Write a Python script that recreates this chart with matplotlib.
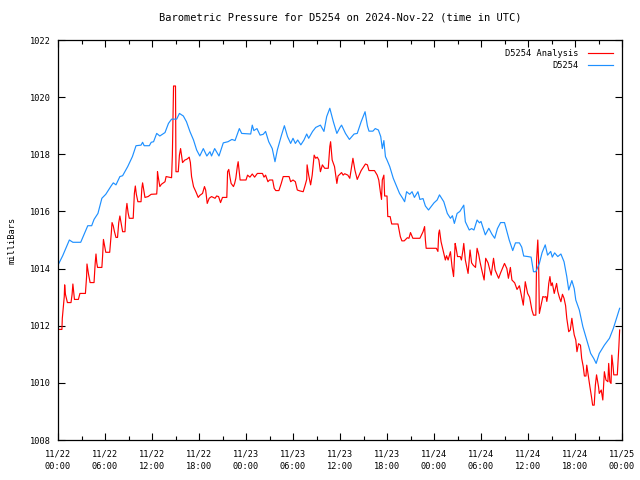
import matplotlib
matplotlib.use("Agg")
import matplotlib.pyplot as plt
from matplotlib.ticker import MultipleLocator

# hours since 2024-11-22 00:00 UTC, pressure in mb
station_hours = [
    0, 0.6, 1.45, 1.9, 2.9, 3.8, 4.3, 4.6, 5.1, 5.6, 6.1, 6.8, 7.06, 7.4, 7.9, 8.25,
    8.9, 9.5, 9.96, 10.6, 10.8, 11.0, 11.66, 11.9, 12.2, 12.6, 13.0, 13.66, 14.1,
    14.5, 15.15, 15.5, 16.0, 16.4, 16.85, 17.3, 17.7, 18.1, 18.55, 19.0, 19.4, 19.6,
    20.0, 20.55, 21.1, 21.7, 22.2, 22.6, 23.15, 23.45, 24.6, 24.8, 25.0, 25.4, 25.8,
    26.2, 26.5, 26.9, 27.35, 27.7, 28.0, 28.5, 28.9, 29.3, 29.7, 30.0, 30.3, 30.6,
    31.0, 31.4, 31.75, 32.0, 32.5, 32.9, 33.5, 33.95, 34.3, 34.7, 35.15, 35.6, 36.0,
    36.2, 36.7, 37.2, 37.8, 38.2, 38.7, 39.2, 39.5, 39.7, 40.2, 40.5, 40.9, 41.2,
    41.4, 41.6, 41.8, 42.0, 42.35, 42.8, 43.2, 43.6, 44.0, 44.25, 44.5, 44.9, 45.2,
    45.5, 45.95, 46.2, 46.6, 46.9, 47.3, 48.0, 48.4, 48.7, 49.25, 49.7, 50.1, 50.35,
    50.6, 50.95, 51.3, 51.8, 52.0, 52.5, 52.8, 53.1, 53.5, 53.8, 54.0, 54.55, 55.0,
    55.4, 55.75, 56.1, 56.5, 57.0, 57.3, 57.6, 58.05, 58.4, 58.9, 59.2, 59.45, 60.0,
    60.4, 60.7, 61.0, 61.45, 61.8, 62.2, 62.5, 62.9, 63.1, 63.4, 63.8, 64.2, 64.6,
    64.95, 65.2, 65.6, 65.9, 66.1, 66.55, 67.0, 67.5, 68.0, 68.4, 68.7, 69.1, 69.75,
    70.4, 70.9, 71.3, 71.7,
]
station_mb = [
    1014.12, 1014.45, 1015.0, 1014.92, 1014.92, 1015.5, 1015.5, 1015.72, 1015.93,
    1016.46, 1016.6, 1016.9, 1017.0, 1016.93, 1017.22, 1017.25, 1017.57, 1017.92,
    1018.3, 1018.32, 1018.42, 1018.3, 1018.3, 1018.42, 1018.44, 1018.73, 1018.64,
    1018.76, 1019.08, 1019.23, 1019.23, 1019.43, 1019.34, 1019.14, 1018.79, 1018.5,
    1018.15, 1017.94, 1018.2, 1017.94, 1018.09, 1017.94, 1018.2, 1017.94, 1018.4,
    1018.44, 1018.52, 1018.48, 1018.9, 1018.73, 1018.71, 1019.02, 1018.83, 1018.9,
    1018.67, 1018.7, 1018.8, 1018.44, 1018.2, 1017.74, 1018.15, 1018.64, 1019.0,
    1018.62, 1018.38, 1018.56, 1018.38, 1018.5, 1018.33, 1018.5, 1018.71, 1018.56,
    1018.8, 1018.94, 1019.02, 1018.8, 1019.32, 1019.61, 1019.14, 1018.73, 1018.94,
    1019.02, 1018.73, 1018.52, 1018.71, 1018.73, 1019.14, 1019.49, 1018.99, 1018.81,
    1018.81, 1018.9, 1018.85, 1018.62, 1018.2, 1018.48, 1017.92, 1017.8, 1017.57,
    1017.16, 1016.89, 1016.63, 1016.46, 1016.34, 1016.69, 1016.6, 1016.69, 1016.49,
    1016.69, 1016.42, 1016.45, 1016.19, 1016.05, 1016.3, 1016.4, 1016.58, 1016.34,
    1015.93, 1015.76, 1015.85, 1015.58, 1015.93, 1016.0, 1016.22, 1015.64, 1015.35,
    1015.4, 1015.35, 1015.7, 1015.6, 1015.65, 1015.18, 1015.41, 1015.2, 1015.06,
    1015.4, 1015.61, 1015.61, 1015.3, 1015.0, 1014.63, 1014.9, 1014.9, 1014.75,
    1014.44, 1014.42, 1014.4, 1013.89, 1013.89, 1014.18, 1014.56, 1014.83, 1014.47,
    1014.6, 1014.4, 1014.55, 1014.42, 1014.51, 1014.24, 1013.72, 1013.25, 1013.58,
    1013.3, 1012.9, 1012.55, 1011.97, 1011.5, 1011.03, 1010.85, 1010.68, 1011.03,
    1011.32, 1011.56, 1011.91, 1012.26, 1012.61,
]

analysis_hours = [
    0, 0.5, 0.55, 0.8, 0.85, 0.95, 1.2, 1.66, 1.8, 1.9, 2.1, 2.6, 2.8, 3.5, 3.65, 3.7,
    3.9, 4.1, 4.6, 4.75, 4.85, 4.95, 5.05, 5.6, 5.7, 5.8, 5.95, 6.1, 6.6, 6.8, 6.9,
    7.05, 7.2, 7.4, 7.6, 7.75, 7.9, 8.05, 8.25, 8.55, 8.7, 8.8, 8.95, 9.1, 9.6, 9.75,
    9.87, 10.0, 10.2, 10.6, 10.7, 10.8, 10.95, 11.1, 11.5, 11.9, 12.6, 12.65, 12.7,
    12.8, 13.0, 13.2, 13.66, 13.8, 14.5, 14.6, 14.7, 14.75, 15.0, 15.06, 15.35, 15.5,
    15.65, 15.75, 15.9, 16.2, 16.4, 16.6, 16.75, 16.9, 17.05, 17.3, 17.6, 17.9, 18.1,
    18.45, 18.7, 18.85, 19.05, 19.3, 19.6, 20.05, 20.25, 20.5, 20.75, 21.0, 21.55,
    21.65, 21.8, 21.95, 22.1, 22.4, 22.55, 22.7, 22.9, 23.0, 23.25, 24.0, 24.2, 24.5,
    24.8, 25.1, 25.45, 26.1, 26.3, 26.5, 26.8, 27.0, 27.4, 27.6, 27.8, 28.2, 28.5,
    28.75, 29.5, 29.7, 30.0, 30.3, 30.55, 30.85, 31.3, 31.5, 31.75, 31.8, 32.0, 32.25,
    32.45, 32.7, 32.9, 33.1, 33.3, 33.5, 33.75, 34.05, 34.5, 34.7, 34.8, 35.0, 35.3,
    35.6, 35.75, 36.2, 36.4, 36.6, 37.0, 37.25, 37.45, 37.65, 37.9, 38.2, 38.7, 39.25,
    39.5, 39.7, 40.4, 40.75, 40.95, 41.15, 41.3, 41.4, 41.6, 41.7, 42.0, 42.1, 42.4,
    42.6, 43.4, 43.7, 43.9, 44.2, 44.6, 44.8, 45.0, 45.3, 46.2, 46.6, 46.8, 46.9,
    47.0, 48.3, 48.5, 48.6, 48.7, 48.9, 49.25, 49.45, 49.6, 49.8, 50.1, 50.3, 50.5,
    50.7, 50.8, 51.0, 51.35, 51.5, 51.7, 51.8, 52.0, 52.35, 52.6, 52.8, 53.0, 53.3,
    53.5, 53.7, 53.9, 54.1, 54.4, 54.6, 54.9, 55.3, 55.6, 55.8, 56.25, 56.5, 56.8,
    57.0, 57.3, 57.5, 57.75, 57.95, 58.3, 58.6, 58.9, 59.15, 59.4, 59.65, 59.95,
    60.2, 60.5, 60.7, 61.0, 61.1, 61.25, 61.35, 61.45, 61.7, 61.9, 62.1, 62.3, 62.4,
    62.5, 62.65, 62.8, 62.95, 63.1, 63.35, 63.5, 63.65, 63.8, 64.0, 64.2, 64.4, 64.6,
    64.8, 64.95, 65.2, 65.4, 65.6, 65.75, 65.9, 66.1, 66.25, 66.45, 66.7, 66.85,
    67.05, 67.2, 67.4, 67.5, 67.7, 67.9, 68.1, 68.25, 68.45, 68.6, 68.75, 69.0, 69.1,
    69.35, 69.55, 69.75, 69.95, 70.2, 70.3, 70.45, 70.6, 70.7, 70.85, 70.95, 71.4,
    71.6, 71.7,
]
analysis_mb = [
    1011.87, 1011.87, 1012.26, 1013.02, 1013.43, 1013.1, 1012.81, 1012.81, 1013.1,
    1013.46, 1012.92, 1012.92, 1013.13, 1013.13, 1013.72, 1014.16, 1013.8, 1013.51,
    1013.51, 1014.2, 1014.51, 1014.2, 1014.04, 1014.04, 1014.47, 1015.02, 1014.8,
    1014.57, 1014.57, 1015.23, 1015.61, 1015.5, 1015.3, 1015.09, 1015.09, 1015.6,
    1015.84, 1015.6, 1015.29, 1015.29, 1016.05, 1016.28, 1015.95, 1015.76, 1015.76,
    1016.63, 1016.89, 1016.6, 1016.34, 1016.34, 1016.8, 1017.0, 1016.75, 1016.49,
    1016.52, 1016.6, 1016.61, 1016.8, 1017.39, 1017.2, 1016.87, 1016.95, 1017.04,
    1017.22, 1017.18, 1017.97, 1019.61, 1020.39, 1020.39, 1017.39, 1017.39, 1017.97,
    1018.2, 1018.0, 1017.71, 1017.8, 1017.82, 1017.86, 1017.9, 1017.71, 1017.22,
    1016.87, 1016.69, 1016.49, 1016.56, 1016.63, 1016.87, 1016.75, 1016.28, 1016.46,
    1016.52, 1016.46, 1016.54, 1016.52, 1016.31, 1016.49, 1016.49, 1017.39, 1017.47,
    1017.2, 1016.98, 1016.87, 1016.98, 1017.16, 1017.59, 1017.74, 1017.1, 1017.1,
    1017.27, 1017.2, 1017.31, 1017.2, 1017.33, 1017.33, 1017.2, 1017.27, 1017.04,
    1017.1, 1017.1, 1016.81, 1016.73, 1016.73, 1016.98, 1017.22, 1017.22, 1017.04,
    1017.1, 1017.04, 1016.75, 1016.72, 1016.69, 1016.87, 1017.12, 1017.63, 1017.27,
    1016.93, 1017.27, 1017.97, 1017.86, 1017.9, 1017.8, 1017.39, 1017.63, 1017.51,
    1017.51, 1018.27, 1018.44, 1017.8, 1017.57, 1016.98, 1017.24, 1017.36, 1017.27,
    1017.32, 1017.27, 1017.16, 1017.51, 1017.86, 1017.45, 1017.12, 1017.43, 1017.66,
    1017.63, 1017.43, 1017.43, 1017.27, 1017.1, 1016.69, 1016.42, 1017.1, 1017.27,
    1016.54, 1016.54, 1015.82, 1015.82, 1015.56, 1015.56, 1015.12, 1014.97, 1014.97,
    1015.08, 1015.06, 1015.26, 1015.06, 1015.06, 1015.29, 1015.47, 1015.0, 1014.71,
    1014.71, 1014.6, 1015.23, 1015.35, 1014.94, 1014.53, 1014.3, 1014.45, 1014.3,
    1014.59, 1014.07, 1013.72, 1014.88, 1014.75, 1014.42, 1014.42, 1014.3, 1014.65,
    1014.88, 1014.3, 1013.83, 1014.65, 1014.2, 1014.12, 1014.04, 1014.71, 1014.5,
    1014.2, 1013.95, 1013.6, 1014.36, 1014.2, 1013.77, 1014.36, 1013.95, 1013.66,
    1013.85, 1014.05, 1014.18, 1014.0, 1013.66, 1014.04, 1013.6, 1013.5, 1013.27,
    1013.4, 1013.07, 1012.72, 1013.54, 1013.13, 1013.0, 1012.55, 1012.37, 1012.37,
    1014.32, 1015.0, 1014.3, 1012.43, 1012.75, 1013.02, 1013.0, 1013.02, 1012.85,
    1013.02, 1013.48, 1013.72, 1013.4, 1013.5, 1013.13, 1013.3, 1013.48, 1013.2,
    1013.0, 1012.84, 1013.1, 1012.96, 1012.7, 1012.26, 1011.79, 1011.85, 1012.26,
    1011.95, 1011.68, 1011.5, 1011.09, 1011.37, 1011.32, 1010.86, 1010.57, 1010.24,
    1010.24, 1010.62, 1010.24, 1009.87, 1009.52, 1009.22, 1009.22, 1009.92, 1010.28,
    1009.87, 1009.63, 1009.75, 1009.4, 1010.39, 1010.1, 1010.04, 1010.68, 1010.04,
    1009.98, 1010.97, 1010.6, 1010.28, 1010.28, 1011.27, 1011.85,
]

tick_hours = list(range(0, 73, 6))
tick_labels = [
    "11/22\n00:00", "11/22\n06:00", "11/22\n12:00", "11/22\n18:00",
    "11/23\n00:00", "11/23\n06:00", "11/23\n12:00", "11/23\n18:00",
    "11/24\n00:00", "11/24\n06:00", "11/24\n12:00", "11/24\n18:00",
    "11/25\n00:00",
]

plt.rcParams["font.family"] = "DejaVu Sans Mono"
plt.rcParams["font.size"] = 6.2

fig = plt.figure(figsize=(6.4, 4.8), dpi=100)
ax = fig.add_axes([58 / 640, 40 / 480, 564 / 640, 400 / 480])

ax.plot(analysis_hours, analysis_mb, color="#ff0000", lw=0.85, label="D5254 Analysis")
ax.plot(station_hours, station_mb, color="#1e90ff", lw=0.85, label="D5254")

ax.set_xlim(0, 72)
ax.set_ylim(1008, 1022)
ax.set_xticks(tick_hours)
ax.set_xticklabels(tick_labels, linespacing=1.5)
ax.xaxis.set_minor_locator(MultipleLocator(3))
ax.yaxis.set_major_locator(MultipleLocator(2))

ax.tick_params(which="both", direction="in", top=True, right=True, width=0.8)
ax.tick_params(which="major", length=5)
ax.tick_params(axis="x", which="major", pad=7)
ax.tick_params(axis="y", which="major", pad=5)
ax.tick_params(which="minor", length=3)
for s in ax.spines.values():
    s.set_linewidth(0.9)

ax.set_title("Barometric Pressure for D5254 on 2024-Nov-22 (time in UTC)", pad=14)
ax.set_ylabel("milliBars", labelpad=10)

ax.legend(loc="upper right", frameon=False, markerfirst=False, handlelength=3.0,
          handletextpad=1.0, labelspacing=0.45, borderaxespad=0.6)

fig.savefig("out.png", dpi=100)
